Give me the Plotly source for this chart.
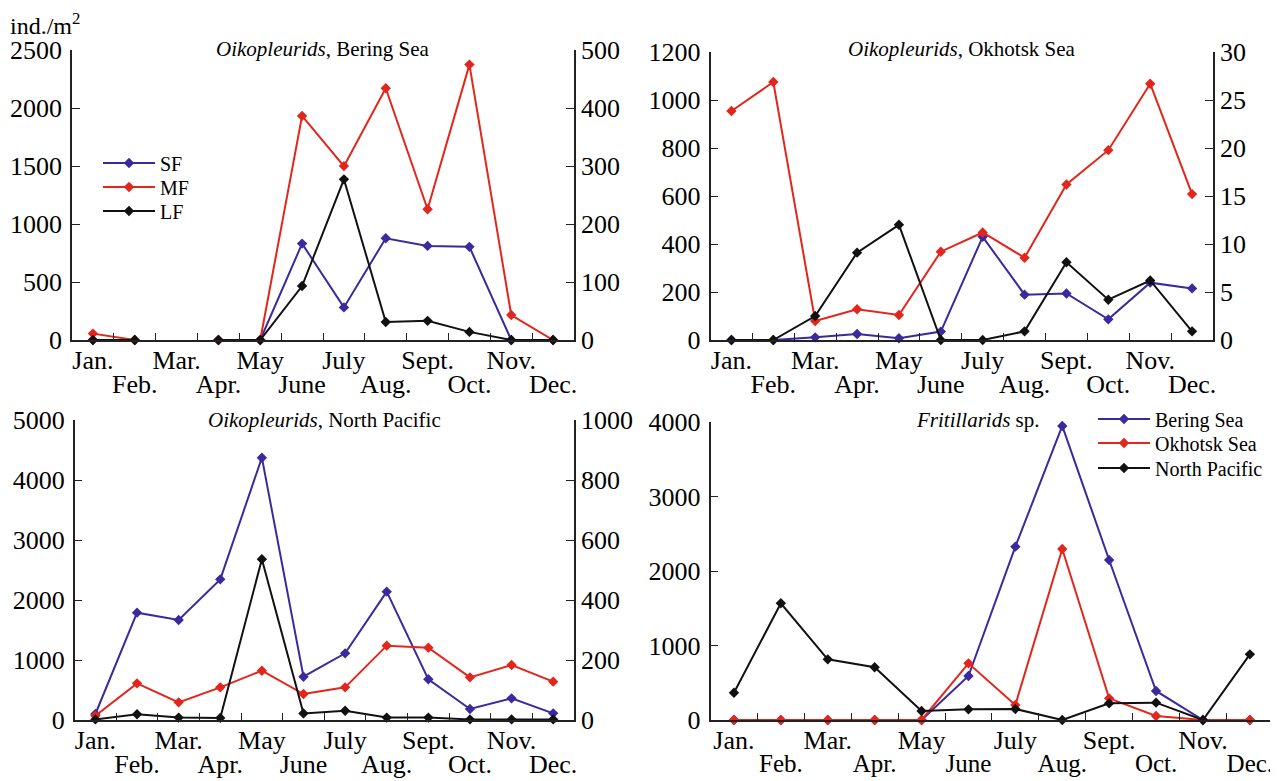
import plotly.graph_objects as go

# ---------------- data ----------------
months = ["Jan.", "Feb.", "Mar.", "Apr.", "May", "June",
          "July", "Aug.", "Sept.", "Oct.", "Nov.", "Dec."]

# Oikopleurids, Bering Sea (SF, MF on left axis; LF on right axis)
bering_sf = [0, 0, None, 0, 0, 831, 281, 877, 811, 803, 0, 0]
bering_mf = [55, 0, None, 0, 0, 1932, 1499, 2170, 1127, 2374, 215, 0]
bering_lf = [0, 0, None, 0, 0, 93, 277, 31, 33, 14, 0, 0]

# Oikopleurids, Okhotsk Sea
okhotsk_sf = [0, 0, 11, 25, 7, 35, 430, 189, 194, 86, 239, 215]
okhotsk_mf = [954, 1075, 79, 128, 104, 368, 448, 343, 648, 791, 1068, 608]
okhotsk_lf = [0, 0, 2.5, 9.1, 12.0, 0, 0, 0.9, 8.1, 4.2, 6.2, 0.9]

# Oikopleurids, North Pacific
pacific_sf = [100, 1789, 1667, 2344, 4372, 722, 1111, 2139, 678, 183, 361, 111]
pacific_mf = [70, 611, 294, 544, 822, 433, 544, 1239, 1206, 711, 917, 639]
pacific_lf = [2, 19, 8, 7, 536, 22, 31, 8, 8, 2, 2, 2]

# Fritillarids sp.
frit_bering = [0, 0, 0, 0, 0, 591, 2329, 3951, 2150, 390, 0, 0]
frit_okhotsk = [0, 0, 0, 0, 0, 761, 202, 2298, 291, 54, 0, 0]
frit_pacific = [367, 1568, 815, 708, 121, 143, 148, 0, 224, 233, 0, 882]

fraction_names = ["SF", "MF", "LF"]
region_names = ["Bering Sea", "Okhotsk Sea", "North Pacific"]

# ---------------- style ----------------
PAGE_W, PAGE_H = 1278, 781
OFF = 8                      # default page margin around the figure
FW, FH = PAGE_W - OFF, PAGE_H - OFF
FONT = "Liberation Serif"
BLUE = "#3a2a9e"
RED = "#e3261b"
BLACK = "#111111"
AX = "#222222"
TICKFS = 26


def fx(p):
    """page pixel x -> paper fraction"""
    return (p - OFF) / FW


def fy(p):
    """page pixel y -> paper fraction"""
    return 1 - (p - OFF) / FH


xs = list(range(len(months)))
odd_vals = xs[0::2]
even_vals = xs[1::2]
bounds = [i + 0.5 for i in xs[:-1]]

# panel geometry in page pixels
panels = [
    dict(x0=72, x1=574, top=50, bot=340, yl=(2500, 500), yr=(500, 100),
         xr=[-0.5, 11.5], efs=TICKFS,
         title="<i>Oikopleurids</i>, Bering Sea", tx=323, ty=49),
    dict(x0=710.5, x1=1213, top=52, bot=340, yl=(1200, 200), yr=(30, 5),
         xr=[-0.5, 11.5], efs=TICKFS,
         title="<i>Oikopleurids</i>, Okhotsk Sea", tx=962, ty=49),
    dict(x0=74.6, x1=574, top=420, bot=720, yl=(5000, 1000), yr=(1000, 200),
         xr=[-0.5, 11.5], efs=TICKFS,
         title="<i>Oikopleurids</i>, North Pacific", tx=324, ty=420),
    dict(x0=710.5, x1=PAGE_W, top=422.3, bot=720, yl=(4000, 1000), yr=None,
         xr=[-0.5, 11.6], efs=25,
         title="<i>Fritillarids</i> sp.", tx=978, ty=420),
]

# one legend per item so rows sit exactly where the reference has them
legend_rows = {
    (1, 0): ("legend", 98, 163), (1, 1): ("legend3", 98, 187), (1, 2): ("legend4", 98, 211),
    (4, 0): ("legend2", 1093, 419), (4, 1): ("legend5", 1093, 443), (4, 2): ("legend6", 1093, 468),
}

fig = go.Figure()

series = [
    (1, [(bering_sf, BLUE, "left"), (bering_mf, RED, "left"), (bering_lf, BLACK, "right")], fraction_names),
    (2, [(okhotsk_sf, BLUE, "left"), (okhotsk_mf, RED, "left"), (okhotsk_lf, BLACK, "right")], fraction_names),
    (3, [(pacific_sf, BLUE, "left"), (pacific_mf, RED, "left"), (pacific_lf, BLACK, "right")], fraction_names),
    (4, [(frit_bering, BLUE, "left"), (frit_okhotsk, RED, "left"), (frit_pacific, BLACK, "left")], region_names),
]

for p, lst, names in series:
    for j, ((vals, col, side), nm) in enumerate(zip(lst, names)):
        yref = f"y{p}" if side == "left" else f"y{p + 4}"
        kw = dict(showlegend=(p, j) in legend_rows)
        if (p, j) in legend_rows:
            kw["legend"] = legend_rows[(p, j)][0]
        fig.add_trace(go.Scatter(
            x=xs, y=vals, name=nm, mode="lines+markers",
            line=dict(color=col, width=2),
            marker=dict(symbol="diamond", size=8, color=col),
            connectgaps=False, cliponaxis=False,
            xaxis=f"x{p}", yaxis=yref, **kw))
    # empty trace so the overlay axis carrying the second label row is drawn
    fig.add_trace(go.Scatter(x=[], y=[], xaxis=f"x{p + 4}", yaxis=f"y{p}",
                             showlegend=False, hoverinfo="skip"))

layout = dict(
    template="none",
    width=FW, height=FH, margin=dict(l=0, r=0, t=0, b=0, autoexpand=False),
    paper_bgcolor="white", plot_bgcolor="white",
    font=dict(family=FONT, size=TICKFS, color="black"),
    annotations=[],
)

for i, pn in enumerate(panels, start=1):
    xd = [max(0.0, fx(pn["x0"])), min(1.0, fx(pn["x1"]))]
    yd = [fy(pn["bot"]), fy(pn["top"])]
    common_x = dict(range=pn["xr"], showgrid=False, zeroline=False,
                    fixedrange=True, automargin=False,
                    ticklabeloverflow="allow")
    layout[f"xaxis{i}"] = dict(
        domain=xd, anchor=f"y{i}", tickmode="array", tickvals=odd_vals,
        ticktext=[months[k] for k in odd_vals], ticks="",
        ticklabelstandoff=-4,
        showline=True, linecolor=AX, linewidth=1.5,
        tickfont=dict(size=TICKFS, family=FONT, color="black"),
        minor=dict(tickmode="array", tickvals=bounds, ticks="inside",
                   ticklen=7, tickwidth=1.3, tickcolor=AX, showgrid=False),
        **common_x)
    layout[f"xaxis{i + 4}"] = dict(
        overlaying=f"x{i}", anchor=f"y{i}", side="bottom", tickmode="array",
        tickvals=even_vals, ticktext=[months[k] for k in even_vals],
        ticks="", showline=False, ticklabelstandoff=26,
        tickfont=dict(size=pn["efs"], family=FONT, color="black"),
        **common_x)
    top, dt = pn["yl"]
    layout[f"yaxis{i}"] = dict(
        domain=yd, anchor=f"x{i}", range=[0, top], dtick=dt, tick0=0,
        ticks="inside", ticklen=8, tickwidth=1.3, tickcolor=AX,
        ticklabelstandoff=3,
        showline=True, linecolor=AX, linewidth=1.5, showgrid=False,
        zeroline=False, fixedrange=True, automargin=False,
        tickfont=dict(size=TICKFS, family=FONT, color="black"))
    if pn["yr"] is not None:
        rtop, rdt = pn["yr"]
        layout[f"yaxis{i + 4}"] = dict(
            overlaying=f"y{i}", anchor=f"x{i}", side="right",
            range=[0, rtop], dtick=rdt, tick0=0,
            ticks="inside", ticklen=8, tickwidth=1.3, tickcolor=AX,
            showline=True, linecolor=AX, linewidth=1.5, showgrid=False,
            zeroline=False, fixedrange=True, automargin=False,
            tickfont=dict(size=TICKFS, family=FONT, color="black"))
    layout["annotations"].append(dict(
        text=pn["title"], x=fx(pn["tx"]), y=fy(pn["ty"]), xref="paper",
        yref="paper", xanchor="center", yanchor="middle", showarrow=False,
        font=dict(size=21, family=FONT, color="black")))

layout["annotations"].append(dict(
    text="ind./m<sup>2</sup>", x=fx(8), y=fy(7), xref="paper", yref="paper",
    xanchor="left", yanchor="top", showarrow=False,
    font=dict(size=24, family=FONT, color="black")))

for name, lx, ly in legend_rows.values():
    layout[name] = dict(
        x=fx(lx), y=fy(ly), xanchor="left", yanchor="middle",
        bgcolor="rgba(0,0,0,0)",
        font=dict(size=20, family=FONT, color="black"),
        tracegroupgap=0, itemwidth=52)

fig.update_layout(**layout)
fig.write_html("out.html")
